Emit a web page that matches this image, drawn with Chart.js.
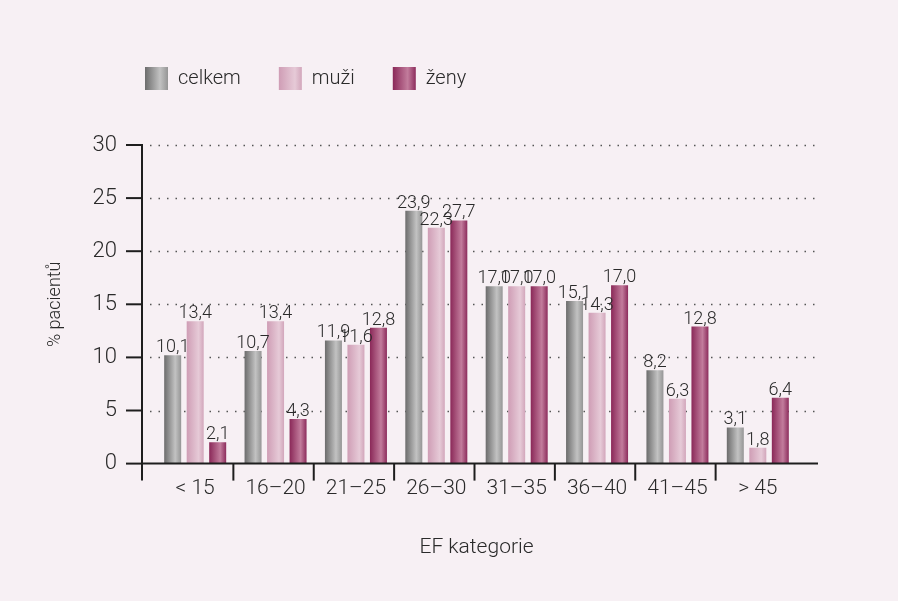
<!DOCTYPE html>
<html>
<head>
<meta charset="utf-8">
<script src="https://cdn.jsdelivr.net/npm/chart.js"></script>
<style>
  body { margin: 0; background: #f7f0f4; }
</style>
</head>
<body>
<canvas id="myChart" width="898" height="601"></canvas>
<script>
let categories = ['< 15', '16\u201320', '21\u201325', '26\u201330', '31\u201335', '36\u201340', '41\u201345', '> 45'];

let celkem = [10.2, 10.6, 11.6, 23.8, 16.7, 15.3, 8.8, 3.4];
let muzi = [13.4, 13.4, 11.2, 22.2, 16.7, 14.2, 6.1, 1.5];
let zeny = [2.0, 4.2, 12.8, 22.9, 16.7, 16.8, 12.9, 6.2];

// printed value labels (as printed in the original, not always equal to bar height)
let celkem_labels = ['10,1', '10,7', '11,9', '23,9', '17,0', '15,1', '8,2', '3,1'];
let muzi_labels = ['13,4', '13,4', '11,6', '22,3', '17,0', '14,3', '6,3', '1,8'];
let zeny_labels = ['2,1', '4,3', '12,8', '27,7', '17,0', '17,0', '12,8', '6,4'];

let y_ticks = [0, 5, 10, 15, 20, 25, 30];

let font_family = 'Roboto, "Liberation Sans", sans-serif';
let text_color = '#2a2a2a';
let legend_shift = 107;

let gray_stops = [[0, '#6c6c6c'], [0.65, '#c2c2c2'], [1, '#959595']];
let pink_stops = [[0, '#cf9db5'], [0.7, '#e6cad7'], [1, '#d2a6bb']];
let wine_stops = [[0, '#8a2858'], [0.65, '#c27c9c'], [1, '#8c2c5c']];

function makeGradient(ctx, left, width, stops) {
    let g = ctx.createLinearGradient(left, 0, left + width, 0);
    stops.forEach(function (s) { g.addColorStop(s[0], s[1]); });
    return g;
}

function barFill(stops) {
    return function (c) {
        let el = c.element;
        if (!el || !el.width) {
            return stops[0][1];
        }
        return makeGradient(c.chart.ctx, el.x - el.width / 2, el.width, stops);
    };
}

let all_stops = [gray_stops, pink_stops, wine_stops];
let all_labels = [celkem_labels, muzi_labels, zeny_labels];

let background = {
    id: 'background',
    beforeDraw: function (chart) {
        let ctx = chart.ctx;
        ctx.save();
        ctx.fillStyle = '#f7f0f4';
        ctx.fillRect(0, 0, chart.width, chart.height);
        ctx.restore();
    }
};

// push the plot down below the legend, and move the legend right over the plot
let legendTweak = {
    id: 'legendTweak',
    beforeInit: function (chart) {
        let legend = chart.legend;
        let fit = legend.fit;
        legend.fit = function () {
            fit.call(this);
            this.height += 45;
        };
        let draw = legend.draw;
        legend.draw = function () {
            this.ctx.save();
            this.ctx.translate(legend_shift, 0);
            draw.call(this);
            this.ctx.restore();
        };
    },
    afterUpdate: function (chart) {
        let legend = chart.legend;
        if (!legend || !legend.legendItems) return;
        legend.legendItems.forEach(function (item, i) {
            let box = legend.legendHitBoxes[i];
            if (box) {
                item.fillStyle = makeGradient(chart.ctx, box.left, 23, all_stops[i]);
            }
            item.lineWidth = 0;
            item.strokeStyle = 'rgba(0,0,0,0)';
        });
    }
};

let axesLines = {
    id: 'axesLines',
    beforeDatasetsDraw: function (chart) {
        let ctx = chart.ctx;
        let y = chart.scales.y;
        let area = chart.chartArea;
        ctx.save();
        ctx.strokeStyle = '#555';
        ctx.lineWidth = 1.5;
        ctx.setLineDash([1.5, 7]);
        y_ticks.forEach(function (v) {
            if (v === 0) return;
            let py = Math.round(y.getPixelForValue(v)) + 0.5;
            ctx.beginPath();
            ctx.moveTo(150, py);
            ctx.lineTo(area.right + 20, py);
            ctx.stroke();
        });
        ctx.restore();
    },
    afterDatasetsDraw: function (chart) {
        let ctx = chart.ctx;
        let x = chart.scales.x;
        let y = chart.scales.y;
        let area = chart.chartArea;
        let axisX = area.left - 13;
        let zero = y.getPixelForValue(0);
        ctx.save();
        ctx.strokeStyle = '#1e1e1e';
        ctx.lineWidth = 2;
        // y axis
        ctx.beginPath();
        ctx.moveTo(axisX, y.getPixelForValue(30) - 1);
        ctx.lineTo(axisX, zero + 17);
        ctx.stroke();
        y_ticks.forEach(function (v) {
            let py = y.getPixelForValue(v);
            ctx.beginPath();
            ctx.moveTo(axisX - 16, py);
            ctx.lineTo(axisX, py);
            ctx.stroke();
        });
        // x axis
        ctx.beginPath();
        ctx.moveTo(axisX, zero);
        ctx.lineTo(area.right + 20, zero);
        ctx.stroke();
        for (let i = 1; i < categories.length; i++) {
            let px = (x.getPixelForValue(i - 1) + x.getPixelForValue(i)) / 2 - 2;
            ctx.beginPath();
            ctx.moveTo(px, zero);
            ctx.lineTo(px, zero + 17);
            ctx.stroke();
        }
        // value labels
        ctx.fillStyle = text_color;
        ctx.font = '300 18px ' + font_family;
        ctx.textAlign = 'center';
        ctx.textBaseline = 'alphabetic';
        chart.data.datasets.forEach(function (ds, di) {
            let meta = chart.getDatasetMeta(di);
            meta.data.forEach(function (bar, i) {
                ctx.fillText(all_labels[di][i], bar.x, bar.y - 3);
            });
        });
        ctx.restore();
    }
};

let myChart = new Chart('myChart', {
    type: 'bar',
    data: {
        labels: categories,
        datasets: [
            { label: 'celkem', data: celkem, backgroundColor: barFill(gray_stops) },
            { label: 'mu\u017ei', data: muzi, backgroundColor: barFill(pink_stops) },
            { label: '\u017eeny', data: zeny, backgroundColor: barFill(wine_stops) }
        ]
    },
    options: {
        responsive: false,
        animation: false,
        devicePixelRatio: 1,
        layout: {
            padding: { top: 29, left: 0, right: 100, bottom: 28 }
        },
        datasets: {
            bar: {
                categoryPercentage: 0.84,
                barPercentage: 0.755,
                borderWidth: 0
            }
        },
        plugins: {
            legend: {
                display: true,
                position: 'top',
                align: 'start',
                labels: {
                    boxWidth: 23,
                    boxHeight: 23,
                    padding: 38,
                    color: text_color,
                    font: { family: font_family, size: 20, weight: '300' }
                }
            },
            tooltip: { enabled: false }
        },
        scales: {
            x: {
                grid: { display: false, drawTicks: false },
                border: { display: false },
                ticks: {
                    padding: 13,
                    color: text_color,
                    font: { family: font_family, size: 21, weight: '300' }
                },
                title: {
                    display: true,
                    text: 'EF kategorie',
                    color: text_color,
                    font: { family: font_family, size: 21, weight: '300' },
                    padding: { top: 20, bottom: 13 }
                }
            },
            y: {
                min: 0,
                max: 30,
                afterFit: function (scale) { scale.width = 155; },
                afterBuildTicks: function (scale) {
                    scale.ticks = y_ticks.map(function (v) { return { value: v }; });
                },
                grid: { display: false, drawTicks: false },
                border: { display: false },
                ticks: {
                    padding: 38,
                    color: text_color,
                    font: { family: font_family, size: 22, weight: '300' }
                },
                title: {
                    display: true,
                    text: '% pacient\u016f',
                    color: text_color,
                    font: { family: font_family, size: 18, weight: '300' },
                    padding: { top: 45, bottom: 0 }
                }
            }
        }
    },
    plugins: [background, legendTweak, axesLines]
});

// second pass so that each bar's gradient can follow its own position
myChart.update();
</script>
</body>
</html>
